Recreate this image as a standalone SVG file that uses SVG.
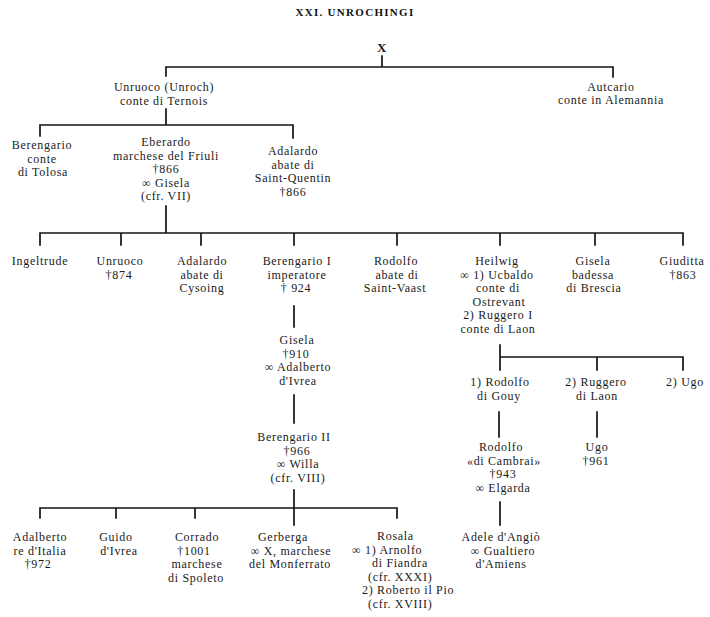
<svg xmlns="http://www.w3.org/2000/svg" width="710" height="617" viewBox="0 0 710 617">
<style>
.t{font-family:"Liberation Serif","Times New Roman",serif;font-size:12px;letter-spacing:0.7px;fill:#1a1a1a;text-anchor:middle}
.s{text-anchor:start}
.title{font-family:"Liberation Serif","Times New Roman",serif;font-size:11px;font-weight:bold;fill:#111;text-anchor:middle;letter-spacing:1.3px}
.b{font-weight:bold;font-size:13px}
.c{fill:none;stroke:#151515;stroke-width:1.7;stroke-linecap:square}
</style>
<rect width="710" height="617" fill="#fff"/>
<text class="title" x="355" y="16">XXI. UNROCHINGI</text>

<g id="connectors" class="c">
<path d="M382 56V67M166 67H613M166 67V76M613 67V77"/>
<path d="M166 109V125M40 125H293M40 125V136M293 125V138"/>
<path d="M166 206V233M40 233H683M40 233V245M121 233V245M201 233V245M294 233V245M397 233V245M500 233V245M595 233V245M683 233V245"/>
<path d="M294 306V327M294 395V423M294 490V525M40 508H397M40 508V518M116 508V518M195 508V518M397 508V518"/>
<path d="M500 345V370M500 357H683M597 357V370M683 357V370"/>
<path d="M499 412V437M597 412V437M500 502V525"/>
</g>

<g id="n-x"><text class="t b" x="382" y="52">X</text></g>
<g id="n-unruoco"><text class="t"><tspan x="164" y="91">Unruoco (Unroch)</tspan><tspan x="164" y="104.5">conte di Ternois</tspan></text></g>
<g id="n-autcario"><text class="t"><tspan x="611" y="90.5">Autcario</tspan><tspan x="611" y="104">conte in Alemannia</tspan></text></g>

<g id="n-berengario"><text class="t"><tspan x="42" y="149">Berengario</tspan><tspan x="42" y="162.5">conte</tspan><tspan x="43" y="176">di Tolosa</tspan></text></g>
<g id="n-eberardo"><text class="t"><tspan x="166" y="146">Eberardo</tspan><tspan x="166" y="159.5">marchese del Friuli</tspan><tspan x="166" y="173">†866</tspan><tspan x="166" y="186.5">∞ Gisela</tspan><tspan x="166" y="200">(cfr. VII)</tspan></text></g>
<g id="n-adalardo1"><text class="t"><tspan x="293" y="155">Adalardo</tspan><tspan x="293" y="168.5">abate di</tspan><tspan x="293" y="182">Saint-Quentin</tspan><tspan x="293" y="195.5">†866</tspan></text></g>

<g id="n-ingeltrude"><text class="t" x="40" y="265">Ingeltrude</text></g>
<g id="n-unruoco2"><text class="t"><tspan x="120" y="265">Unruoco</tspan><tspan x="119" y="278.5">†874</tspan></text></g>
<g id="n-adalardo2"><text class="t"><tspan x="202" y="265">Adalardo</tspan><tspan x="202" y="278.5">abate di</tspan><tspan x="202" y="292">Cysoing</tspan></text></g>
<g id="n-berengario1"><text class="t"><tspan x="297" y="265">Berengario I</tspan><tspan x="297" y="278.5">imperatore</tspan><tspan x="296" y="292">† 924</tspan></text></g>
<g id="n-rodolfo1"><text class="t"><tspan x="396" y="265">Rodolfo</tspan><tspan x="397" y="278.5">abate di</tspan><tspan x="395" y="292">Saint-Vaast</tspan></text></g>
<g id="n-heilwig"><text class="t"><tspan x="497" y="265">Heilwig</tspan><tspan x="497" y="278.5">∞ 1) Ucbaldo</tspan><tspan x="498" y="292">conte di</tspan><tspan x="499" y="305.5">Ostrevant</tspan><tspan x="498" y="319">2) Ruggero I</tspan><tspan x="498" y="332.5">conte di Laon</tspan></text></g>
<g id="n-gisela1"><text class="t"><tspan x="593" y="265">Gisela</tspan><tspan x="593" y="278.5">badessa</tspan><tspan x="594" y="292">di Brescia</tspan></text></g>
<g id="n-giuditta"><text class="t"><tspan x="682" y="265">Giuditta</tspan><tspan x="683" y="278.5">†863</tspan></text></g>

<g id="n-gisela2"><text class="t"><tspan x="297" y="344">Gisela</tspan><tspan x="296" y="357.5">†910</tspan><tspan x="298" y="371">∞ Adalberto</tspan><tspan x="298" y="384.5">d'Ivrea</tspan></text></g>
<g id="n-berengario2"><text class="t"><tspan x="294" y="441">Berengario II</tspan><tspan x="297" y="454.5">†966</tspan><tspan x="298" y="468">∞ Willa</tspan><tspan x="298" y="481.5">(cfr. VIII)</tspan></text></g>

<g id="n-rodolfo-gouy"><text class="t"><tspan x="500" y="386">1) Rodolfo</tspan><tspan x="499" y="400">di Gouy</tspan></text></g>
<g id="n-ruggero2"><text class="t"><tspan x="596" y="386">2) Ruggero</tspan><tspan x="597" y="400">di Laon</tspan></text></g>
<g id="n-ugo2"><text class="t" x="685" y="386">2) Ugo</text></g>
<g id="n-rodolfo-cambrai"><text class="t"><tspan x="501" y="451">Rodolfo</tspan><tspan x="504" y="464.5">«di Cambrai»</tspan><tspan x="503" y="478">†943</tspan><tspan x="503" y="491.5">∞ Elgarda</tspan></text></g>
<g id="n-ugo961"><text class="t"><tspan x="597" y="451">Ugo</tspan><tspan x="596" y="464.5">†961</tspan></text></g>
<g id="n-adele"><text class="t"><tspan x="501" y="541">Adele d'Angiò</tspan><tspan x="503" y="554.5">∞ Gualtiero</tspan><tspan x="501" y="568">d'Amiens</tspan></text></g>

<g id="n-adalberto"><text class="t"><tspan x="40" y="541">Adalberto</tspan><tspan x="40" y="554.5">re d'Italia</tspan><tspan x="38" y="568">†972</tspan></text></g>
<g id="n-guido"><text class="t"><tspan x="116" y="541">Guido</tspan><tspan x="119" y="554.5">d'Ivrea</tspan></text></g>
<g id="n-corrado"><text class="t"><tspan x="197" y="541">Corrado</tspan><tspan x="194" y="554.5">†1001</tspan><tspan x="197" y="568">marchese</tspan><tspan x="196" y="581.5">di Spoleto</tspan></text></g>
<g id="n-gerberga"><text class="t"><tspan x="283" y="541">Gerberga</tspan><tspan x="291" y="554.5">∞ X, marchese</tspan><tspan x="290" y="568">del Monferrato</tspan></text></g>
<g id="n-rosala"><text class="t s"><tspan x="377" y="540">Rosala</tspan><tspan x="352" y="553.5">∞ 1) Arnolfo</tspan><tspan x="372" y="567">di Fiandra</tspan><tspan x="368" y="580.5">(cfr. XXXI)</tspan><tspan x="362" y="594">2) Roberto il Pio</tspan><tspan x="368" y="607.5">(cfr. XVIII)</tspan></text></g>
</svg>
